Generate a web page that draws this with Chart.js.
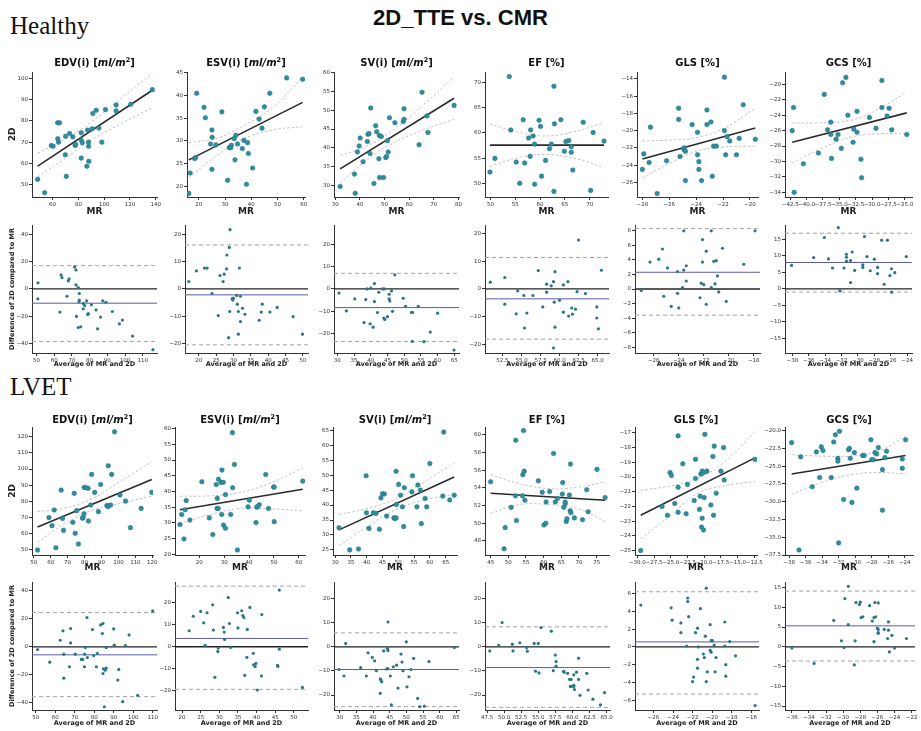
<!DOCTYPE html>
<html>
<head>
<meta charset="utf-8">
<title>2D_TTE vs. CMR</title>
<script src="https://cdn.jsdelivr.net/npm/chart.js@4.4.1/dist/chart.umd.min.js"></script>
<style>
  html, body { margin: 0; padding: 0; background: #fff; }
  body { width: 921px; height: 731px; position: relative; overflow: hidden; font-family: "DejaVu Sans", sans-serif; color: #111; }
  canvas { position: absolute; }
  .main { position: absolute; left: 0; width: 921px; top: 5px; text-align: center; font: bold 22px "Liberation Sans", Arial, sans-serif; line-height: 26px; }
  .group { position: absolute; left: 10px; font: 25px "Liberation Serif", "Times New Roman", serif; line-height: 25px; }
  .ptitle { position: absolute; font-weight: bold; font-size: 10px; line-height: 14px; white-space: nowrap; transform: translateX(-50%); }
  .ptitle sup { font-size: 6.5px; line-height: 0; vertical-align: 4px; }
</style>
</head>
<body>
<div class="main">2D_TTE vs. CMR</div>
<div class="group" style="top:13px">Healthy</div>
<div class="group" style="top:374px">LVET</div>
<script>
// ---- titles ----
const metricTitles = [
  "EDV(i) [<i>ml/m</i><sup>2</sup>]",
  "ESV(i) [<i>ml/m</i><sup>2</sup>]",
  "SV(i) [<i>ml/m</i><sup>2</sup>]",
  "EF [%]",
  "GLS [%]",
  "GCS [%]"
];

// ---- Healthy: MR vs 2D ----
const hEdvMR = [48.4, 53.8, 59, 60.3, 63.9, 65.4, 64, 64.6, 69.8, 70.6, 70.1, 73.2, 75.7, 77.5, 77.8, 82.2, 82.2, 82.2, 83, 86.6, 87.1, 87.9, 87.9, 88.1, 91.2, 93.8, 95.9, 98.2, 101, 109.3, 109.3, 120.6, 137.4, 90.7];
const hEdv2D = [52.5, 46.2, 68.4, 68.1, 79.1, 79.1, 71.6, 70, 64.1, 53.9, 72.8, 74.1, 72.5, 68.4, 69, 62.5, 74.4, 71, 69.7, 58.7, 75.7, 68.1, 70, 61, 83.5, 85, 76.6, 70, 85.3, 87.5, 84.7, 87.8, 94.7, 76.3];
const hEdvFit = [48.4, 58.7, 137.4, 94.4];
const hEdvBandX = [48.4, 70, 90, 114, 137.4];
const hEdvHi = [64.7, 71.5, 79.5, 91, 102.3];
const hEdvLo = [53.6, 62.5, 71, 79, 86.3];

const hEsvMR = [16.2, 16.7, 18.4, 18.8, 19.2, 22, 22.5, 25, 25.1, 25, 24.5, 26.5, 28.8, 31, 31.6, 32.2, 32.4, 33.5, 33.8, 34.1, 34.8, 36.6, 37.2, 38.2, 38.6, 38.9, 40.5, 41.8, 43, 44.1, 45, 47.1, 53.5, 59.6];
const hEsv2D = [18.4, 22.9, 26.1, 26.3, 40.5, 37.4, 35.1, 32.4, 30.8, 23.7, 29.3, 29.1, 36.4, 21.3, 28.5, 28.5, 29, 30.5, 25.8, 31.2, 29.3, 28.3, 30.1, 20.4, 29.6, 27.2, 24, 36.5, 34.8, 32.8, 37.5, 40.5, 43.9, 43.6];
const hEsvFit = [16.2, 25.8, 59.6, 38.5];
const hEsvBandX = [16.2, 27, 36, 48, 59.6];
const hEsvHi = [29.6, 30.6, 33, 37.3, 44.1];
const hEsvLo = [21.9, 26.8, 30.2, 32.4, 33.1];

const hSvMR = [32, 37.8, 38.1, 39, 39.7, 40.1, 41.3, 43, 43.3, 43.7, 44.1, 44.4, 45.7, 46.4, 46.8, 47.7, 47.9, 48.7, 48, 49.6, 50.5, 50.8, 51.2, 51.5, 52, 54.2, 57.6, 57.9, 57.9, 64, 65.2, 67.2, 67.6, 78.2];
const hSv2D = [29.7, 33, 27.9, 38.9, 40.5, 42.6, 36.3, 41.7, 43.6, 43.8, 38.5, 50.6, 30.5, 45.9, 44.3, 37.1, 43.3, 43, 32.1, 32.1, 37.4, 37.7, 41.9, 38.9, 48, 46.7, 47, 47.6, 50.4, 40.8, 54.8, 48.5, 44.1, 51.3];
const hSvFit = [32, 34.4, 78.2, 53.2];
const hSvBandX = [32, 42, 52, 65, 78.2];
const hSvHi = [38, 40.2, 44, 51, 58.9];
const hSvLo = [30.5, 36.4, 40.8, 44.6, 47.6];

const hEfMR = [49.9, 50.9, 53.8, 54.1, 55.2, 55.9, 56.6, 56.9, 57.7, 58, 58.1, 58.6, 58.9, 58.9, 59.8, 60.1, 60.3, 61.1, 61.9, 62.3, 62.8, 62.8, 62.9, 64.2, 64.9, 65.2, 65.8, 66.3, 66.3, 66.6, 68.7, 70.2, 70.7, 72.9];
const hEf2D = [52.3, 55, 71.1, 60.6, 54.3, 50.1, 62.6, 54.1, 59, 55.4, 60.6, 59.4, 57.8, 49.9, 62.5, 61.3, 51.5, 54.6, 56.9, 57.8, 69.2, 48.5, 61.8, 62.6, 56.4, 58.3, 58.5, 57.3, 56.2, 52.7, 62.1, 48.7, 60.1, 58.4];
const hEfFit = [49.9, 57.6, 72.9, 57.6];
const hEfBandX = [49.9, 55, 61, 67, 72.9];
const hEfHi = [61.8, 60.3, 59.4, 60.3, 62];
const hEfLo = [53.4, 55, 55.8, 55, 53.2];

const hGlsMR = [-28, -27.9, -27.5, -27.4, -26.9, -26.2, -25.3, -25.3, -25.2, -24.9, -24.9, -24.8, -24.8, -24.3, -23.9, -23.9, -23.8, -23.8, -23.6, -23.2, -23.2, -22.9, -22.8, -22.7, -22.5, -21.9, -21.9, -21.8, -21.7, -21.5, -21, -20.8, -20.5, -19.6];
const hGls2D = [-24.5, -22.7, -23.7, -19.6, -27.3, -23.5, -18.7, -17.4, -23, -22, -22.2, -22.4, -25.8, -19.3, -20.2, -22.8, -23.6, -24.5, -25.8, -17.6, -19.3, -19, -25.3, -21.8, -21.8, -20, -13.8, -22.8, -20.7, -21.2, -22.8, -20.9, -17, -21];
const hGlsFit = [-28, -23.3, -19.6, -19.7];
const hGlsBandX = [-28, -26, -24, -22, -19.6];
const hGlsHi = [-21.2, -21.1, -20.8, -19.8, -17.4];
const hGlsLo = [-25.5, -23.8, -22.4, -21.9, -21.8];

const hGcsMR = [-42.2, -42, -41.9, -40.5, -38.2, -37.3, -36.8, -36.3, -36.3, -36.2, -35.5, -35.2, -34.7, -34.5, -34, -33.7, -32.9, -32.8, -32.3, -32.3, -31.7, -31.6, -30.4, -29.4, -28.5, -28.5, -27.7, -27.4, -27, -24.7];
const hGcs2D = [-26, -23, -34, -30.3, -28.9, -21.3, -25.9, -24.9, -26.5, -29.6, -27.1, -26.5, -28.3, -19.8, -19.1, -24, -27.5, -25.8, -23.5, -26.2, -29.7, -32.1, -24.3, -25.7, -19.5, -23, -24.1, -23.1, -25.9, -26.5];
const hGcsFit = [-42.2, -27.5, -24.7, -23.7];
const hGcsBandX = [-42.2, -38, -33, -29, -24.7];
const hGcsHi = [-25, -25, -24.6, -23.2, -21];
const hGcsLo = [-30.2, -28.4, -26.8, -26.4, -26.4];

// ---- Healthy: Bland-Altman ----
const hEdvAvg = [50.9, 50.8, 63.2, 63.9, 64.4, 67.2, 68, 68.4, 71.5, 72.3, 72.3, 72.6, 73.6, 73.6, 74, 74.2, 74.2, 75, 76.4, 76.4, 77.2, 78.3, 78.9, 79.3, 81, 83.6, 84.5, 86.2, 87.4, 89.2, 92.8, 96.8, 98.5, 104.2, 115.7];
const hEdvDiff = [4.4, -7.3, -17, 10.2, 8.3, -5.4, 5.9, 7.3, 16.1, 13.9, 2.9, -20.2, 1, -28.3, -9.3, -8.2, -3.4, -27.8, -10.7, -14.6, -12.2, -8.8, -18.8, -18.2, -11.7, -15.4, -29.3, -20.7, -8.8, -9.8, -16.6, -25.6, -22.9, -34.6, -44.6];
const hEdvLoA = [-10.5, 17, -38.5];

const hEsvAvg = [17.1, 19.3, 21.6, 22.4, 23.8, 25.6, 26.1, 27, 27.3, 28, 28.1, 28.6, 28.8, 28.9, 29, 29.6, 29.8, 30, 30.9, 31.1, 31.4, 31.7, 31.4, 32, 32, 32.6, 33.3, 37.4, 38, 38.3, 40.5, 42.6, 47.2, 49.9];
const hEsvDiff = [2.7, 6.6, 7.6, 7.6, -1.7, -9.8, 4.9, 2.7, 5.4, 7.3, 12.4, -17.9, 15.2, -8.3, 21.7, -3.6, -4.1, -3.4, -2.4, -5.6, -8.3, 7.6, -16.6, -2.7, -12, -7.1, -9.3, -11.5, -8.5, -5.6, -8.5, -6.8, -10.2, -16.6];
const hEsvLoA = [-2.2, 16.1, -20.5];

const hSvAvg = [30.5, 32.7, 35.2, 38, 38.5, 38.9, 40, 39.8, 40.7, 41.1, 41.1, 42, 42.4, 43.5, 44, 43.9, 44.2, 45, 45.5, 45.5, 45.7, 46.2, 46.5, 47.2, 49.7, 50.4, 52.2, 52.5, 52.4, 54.2, 55.9, 57.8, 60, 64.9];
const hSvDiff = [-1.9, -9.9, -4.5, -15.1, -4.8, 0, 0.3, -15.7, -17.2, 2.4, -5.7, -10.6, -1.5, 0, 0, -13.1, -13.7, -12.5, -2.4, -4.5, -5.4, -0.9, -10.1, 6.3, -4.2, -7.9, -10.5, -10.6, -23.6, -7.9, -23.7, -19.4, -10.9, -27.5];
const hSvLoA = [-8.4, 7, -23.6];

const hEfAvg = [50.9, 52.8, 52.8, 54.3, 54.5, 55.3, 55.4, 55.7, 56.5, 57.2, 57.8, 58.3, 58.3, 58.9, 59.2, 59.3, 59.4, 59.4, 59.2, 60, 60.5, 60.5, 61.1, 61.2, 61.6, 61.7, 62.1, 62.3, 62.5, 63.4, 64.9, 64.9, 65.1, 65.5];
const hEfDiff = [2.4, 4.1, -5.5, -9, -0.7, -2.4, -14.1, -8.7, -2.4, 6.6, -6.5, 1.7, -1.2, 1.1, 2.6, -4.8, -13.8, 6.2, -21.3, -4.1, 1.4, -8.4, 2.6, -9.8, -6.9, -9.1, -7.3, -1, 17.6, -1.7, -6.5, -10.5, -14.4, 6.7];
const hEfLoA = [-3.6, 11.3, -18.1];

const hGlsAvg = [-27, -26.3, -25.6, -25.3, -25.2, -24.9, -24.6, -24.1, -24.1, -24, -23.7, -23.6, -23.6, -23.4, -23.4, -22.3, -22.2, -22.1, -22.1, -22, -21.8, -21.8, -21.4, -21.4, -21.2, -21.1, -21, -20.9, -20.8, -20.5, -20.2, -18.8, -17.9];
const hGlsDiff = [-0.2, 3.7, 4.1, 5.5, -1, 2.9, -2.4, 2.4, -0.6, -2.6, 0.2, 8, 2.6, 3.2, 1.1, -1.2, 0.8, 6.8, 3.7, 0.6, 5.2, -2.1, 8, 0.2, 3.8, 0.7, 3.9, 1.8, -0.4, 5.6, -1.7, 3.4, 8];
const hGlsLoA = [2.3, 8.3, -3.6];

const hGcsAvg = [-38.1, -35.4, -34.1, -33.6, -33.1, -32.4, -32.2, -31.7, -31.4, -31.4, -31.4, -30.9, -30.9, -30.7, -30.4, -29.4, -29.4, -29.2, -28.9, -28.5, -28, -27.6, -27.6, -27.1, -26.8, -26.4, -26.1, -25.9, -25.9, -25.5, -24.1];
const hGcsDiff = [7.1, 9.5, 15.6, 9.1, 6.3, 18.6, -0.6, 6.3, 10.5, 9.6, 8.4, 8.6, 1.9, 11.2, 5.6, 7.3, 6.5, 15.9, 9.8, 5.5, 9, 6.5, 4.6, 14.8, 1.4, 14.8, 4, 6.1, -1, 4.9, 9.8];
const hGcsLoA = [8, 16.9, -1];

// ---- LVET: MR vs 2D ----
const lEdvMR = [52.3, 59, 60.8, 62.1, 63.1, 66.2, 67, 67.6, 73.1, 73.9, 74.5, 75.4, 76.4, 78.8, 79.2, 79.7, 79.8, 80.6, 82.1, 82.3, 83.7, 84.2, 86, 88.2, 89.5, 93.2, 93.8, 94, 94, 95.4, 96, 97.7, 100.9, 104.2, 107.1, 113.4, 119.7];
const lEdv2D = [50, 70, 65, 74.7, 51.4, 87, 69.5, 62.1, 67.1, 85, 60.3, 74.3, 53.7, 69.6, 70.2, 72.4, 88.6, 88.6, 88.1, 67.9, 77.8, 96.7, 85.6, 73.7, 90.5, 77.5, 76.8, 77.2, 102, 77.8, 96.7, 123, 84, 80.2, 63.8, 75.7, 85.6];
const lEdvFit = [52.3, 64.2, 119.7, 93.6];
const lEdvBandX = [52.3, 68, 85, 102, 119.7];
const lEdvHi = [73.7, 75.8, 82, 93, 104.5];
const lEdvLo = [54.7, 66, 74.8, 79, 83.3];

const lEsvMR = [12.2, 12.9, 13.8, 14.3, 14.7, 16.2, 21, 24, 25.4, 26.8, 27.7, 27.2, 27.1, 27.6, 28.7, 29.6, 29.1, 29, 29.7, 30.5, 30.5, 32.6, 33.3, 33.4, 34.1, 35.3, 39.6, 40.1, 42.8, 43.1, 43.4, 44.1, 46.7, 47.8, 49.9, 50.1, 50.1, 61.6];
const lEsv2D = [29.5, 32.7, 24.9, 34.2, 37.1, 30.9, 43.1, 31.6, 26.3, 42.2, 43.9, 37.8, 34.6, 34.6, 42.9, 42.9, 46.8, 32.7, 29.3, 28.3, 39, 32.7, 58.7, 41.2, 48.6, 21.4, 35.1, 37.2, 30.1, 35, 35.2, 35.8, 45.4, 34.6, 41.4, 41.4, 30.4, 43.3];
const lEsvFit = [12.2, 34.2, 61.6, 40.7];
const lEsvBandX = [12.2, 24, 36, 48, 61.6];
const lEsvHi = [38.5, 38.6, 39.6, 42.5, 47.5];
const lEsvLo = [29.8, 32.6, 34.6, 34.5, 33.8];

const lSvMR = [31.2, 34.6, 37.4, 39.8, 39.9, 40.7, 42.1, 42.9, 44, 44.5, 45, 45.6, 46.3, 48.6, 48.9, 49.3, 49.3, 49.4, 50.1, 50.7, 51.3, 51.7, 51.9, 54.3, 54.5, 55.9, 56.2, 57, 57.3, 58.5, 59, 60, 64.1, 64.4, 66.3, 67.7];
const lSv2D = [32.4, 25, 25.3, 49.8, 37.4, 32.2, 37.4, 37.2, 31.9, 42.4, 43.8, 43.7, 36.3, 35.7, 35.5, 35.7, 51.3, 40.2, 46.9, 43.3, 39.4, 32.8, 45.8, 44.4, 49.8, 39.4, 46.7, 45, 33.8, 42.2, 39.4, 53.9, 43, 64.4, 41.7, 43.3];
const lSvFit = [31.2, 31.7, 67.7, 49.4];
const lSvBandX = [31.2, 40, 49, 58, 67.7];
const lSvHi = [36.9, 38.8, 42, 47.6, 54.1];
const lSvLo = [26.4, 32.6, 38.4, 41.6, 43.6];

const lEfMR = [45, 49.1, 48.8, 50.8, 52, 52.3, 52.1, 54, 54.1, 54.5, 54.3, 54.7, 58.5, 59.6, 60.1, 60.6, 60.7, 61.7, 62.8, 63.3, 63.9, 65.4, 65.3, 65.7, 66.1, 66.1, 66.4, 66.6, 67.3, 67.5, 67.7, 67.6, 68.7, 71, 72.2, 72.6, 75.1, 77.4];
const lEf2D = [54.7, 49.5, 47.1, 51.8, 53.1, 50.3, 59.4, 53.1, 55.5, 55.9, 60.5, 52.6, 54.8, 53.5, 49.8, 50, 52.4, 53.6, 57.9, 52.4, 52.8, 54.6, 53.3, 51.8, 52.2, 52.4, 50.2, 50.5, 53.2, 51.4, 51.2, 56.7, 50.6, 50.4, 53.8, 51.3, 56.1, 52.9];
const lEfFit = [45, 53.4, 77.4, 52.6];
const lEfBandX = [45, 53, 62, 70, 77.4];
const lEfHi = [55.5, 54.5, 53.9, 54.1, 54.7];
const lEfLo = [51.1, 52.1, 52.1, 51.6, 50.2];

const lGlsMR = [-29.5, -26.3, -25.5, -25.1, -24.9, -24.4, -23.9, -23.9, -23.9, -23.2, -22.7, -22.5, -21.5, -21.3, -21.3, -20.7, -20.6, -20.5, -20.3, -20.4, -20.1, -20.3, -20.1, -20, -19.9, -19.6, -19, -18.7, -18.6, -18.5, -18.2, -17.5, -17, -17.1, -12.4];
const lGls2D = [-25, -22, -22.6, -19.7, -19.9, -21.8, -22.4, -17.2, -20.7, -19.1, -22.5, -20.5, -21.6, -18.8, -20.1, -22.2, -21.3, -19.8, -22.8, -23.4, -23.6, -19.6, -19.7, -21.4, -17.1, -19.6, -21.9, -18.6, -22.6, -17.9, -21.1, -19.6, -20.2, -18, -18.8];
const lGlsFit = [-29.5, -22.6, -12.4, -18.7];
const lGlsBandX = [-29.5, -25, -21, -17, -12.4];
const lGlsHi = [-20.9, -20.6, -20.1, -19, -16.9];
const lGlsLo = [-24.2, -22.6, -21.1, -20.6, -20.3];

const lGcsMR = [-37.7, -36.6, -36.8, -35.2, -34.7, -34.3, -34.1, -33.9, -32.9, -32.6, -32.4, -32.1, -32.1, -31.9, -32, -31.4, -30.8, -30.7, -30.6, -30.4, -30.1, -29.8, -29.1, -28.9, -28.1, -28, -27.8, -27.6, -27.4, -27.2, -26.7, -26.7, -26.4, -26.2, -24.3, -24.3, -23.9];
const lGcs2D = [-21.7, -23.7, -36.8, -27.9, -23, -26.6, -22.3, -22.8, -26.6, -21.6, -20.6, -23.9, -24.3, -20.1, -35.8, -29.7, -22.7, -22.5, -23.9, -30.1, -23.1, -28.1, -23.5, -23.5, -21.3, -24.1, -24.1, -23.1, -23.3, -22.4, -25.5, -31.2, -23.8, -22.9, -24, -25.3, -21.3];
const lGcsFit = [-37.7, -26.1, -23.9, -23.5];
const lGcsBandX = [-37.7, -34, -30.5, -27, -23.9];
const lGcsHi = [-23.4, -23.6, -23.6, -22.8, -20.8];
const lGcsLo = [-29, -27.3, -26.2, -25.9, -26.1];

// ---- LVET: Bland-Altman ----
const lEdvAvg = [51, 57.2, 62.6, 64, 64.4, 64.4, 67.3, 67.9, 67.9, 70.3, 73.4, 74.1, 75.1, 75.5, 75, 76.3, 76.5, 79.1, 79.7, 81.1, 81.6, 83.3, 84.2, 84.5, 84.7, 85.6, 86.1, 84.5, 86.2, 90, 90.3, 92.1, 92.6, 94.6, 96, 97.9, 102.3, 110, 85.2];
const lEdvDiff = [-1.9, -10.9, 4.7, 11.4, -22.3, -5.2, -14.2, 13, 2.8, -5.2, -9, -9, -5.2, -0.5, -14.2, 20.9, -7.6, 12.3, -6.2, -14.2, -4.7, 15.6, 9.5, 16.6, -15.6, -16.6, -15.2, -19, -0.5, 12.8, 1.2, -23.7, -16.1, -39.1, 0.9, 8.5, -34.6, 25.6, -42.7];
const lEdvLoA = [-5.7, 24.4, -35.5];

const lEsvAvg = [21.9, 23, 25, 25.8, 26.2, 26.7, 28.2, 28.4, 28.8, 29.6, 29.7, 31.1, 31.3, 31.4, 32.4, 32.7, 33, 34.9, 35, 36, 36.3, 36.6, 36.8, 37.4, 37.5, 38.2, 39.1, 39.2, 39.6, 39.8, 40.2, 41.4, 41.3, 45.6, 45.7, 46.1, 46.1, 52.3];
const lEsvDiff = [7.3, 13.9, 16.1, 10.9, 0.6, 15.5, 19.1, 7.6, -13.9, -2.1, -0.6, 8.8, 6.7, 3.3, 22.4, 10.6, -0.3, 15.5, 8.6, 16.4, 14.2, 13.3, -13, -4.8, 7.9, 17.9, -3, -8.2, -9, -7.6, -19.7, 14.7, -13.3, -8.5, -8.9, 25.8, -1.1, -18.5];
const lEsvLoA = [3.8, 27.6, -19.4];

const lSvAvg = [29.8, 31.3, 31.8, 36.3, 38, 38.5, 39.8, 40.5, 41, 42.2, 42.4, 42.6, 42.2, 43.2, 44.1, 44.4, 44.3, 44.5, 44.5, 45.2, 45.5, 46.1, 47.1, 47.5, 48.4, 48.7, 49, 50, 50.2, 50.8, 51.4, 52.2, 53.4, 54, 55.4, 56.8, 64.4];
const lSvDiff = [-9.4, -12.1, 1.4, -8.6, -12.1, -2.5, -4.4, -5.8, -9.9, -13.3, -13.8, -14.5, -19.3, -1.7, -9.2, -9, -0.6, -1.5, 10.3, -12.1, -24.1, -8.3, -7.6, -17.1, -3, -6.3, -9.9, 2.1, -16.6, -12.4, -9.4, -4.8, -21.4, -24.8, -24.6, -6.1, -0.3];
const lSvLoA = [-9.4, 5.8, -24.8];

const lEfAvg = [47.9, 49.2, 49.7, 51.2, 51.3, 52.3, 53.3, 53.4, 54.4, 54.6, 55, 55.1, 55.4, 56.9, 57.5, 57.6, 57.6, 57.2, 58.7, 58.8, 59.3, 59.6, 59.7, 59.8, 59.8, 60.2, 60.2, 60.2, 60.3, 60.6, 60.9, 60.9, 61.1, 62.1, 62.3, 63, 64.1, 64.7];
const lEfDiff = [-1.7, 0.6, 10.1, 1.1, -1.7, 1.7, -0.3, -1.8, 1.4, -10.1, 1.4, -10.8, 8, 6.5, -3.4, -6.1, -8, -9.9, -10.2, -10.5, -11, -13.5, -16.4, -16.4, -13.5, -16, -16.5, -11.6, -17.7, -10.5, -4.7, -13.5, -20.1, -11, -17.9, -21.7, -24.1, -19];
const lEfLoA = [-8.6, 8.3, -25.1];

const lGlsAvg = [-27.3, -24.2, -24.1, -23.2, -23.2, -22.6, -22.5, -22.5, -22.4, -22, -21.9, -21.7, -21.5, -21.5, -21.5, -21.4, -21.2, -20.9, -20.8, -20.7, -20.6, -20.6, -20.5, -20.2, -20.2, -20.1, -20, -20, -20.1, -19.8, -19.6, -19.7, -18.7, -18.7, -18.6, -18.6, -18.2, -17.6, -15.6];
const lGlsDiff = [4.7, 4.4, 3, 2.7, 1.6, 0.1, 5.5, 5.1, 3.4, -3.9, -3.4, 1.6, -2.4, -1.4, 2.1, 0, 4.3, -0.8, -1.2, 1.2, -3.9, 6.6, -2.8, -0.4, 2.5, 0.7, 0.7, 0.7, -0.6, 0.2, -1.2, -2.8, 0.1, 2.8, -2, -3.3, 0.6, -1, -6.6];
const lGlsLoA = [0.56, 6.2, -5.3];

const lGcsAvg = [-36, -33.4, -31.1, -30.2, -29.9, -29.8, -29.4, -29.4, -28.7, -28.6, -28.5, -28.1, -28, -27.9, -27.7, -26.9, -26.6, -26.4, -26.2, -26.3, -26.4, -26, -25.9, -25.9, -25.9, -25.9, -25.2, -24.7, -24.7, -24.8, -24.6, -24.3, -24, -22.6];
const lGcsDiff = [-0.3, -4.2, 6.7, 1.5, -0.2, 12.2, 15.3, 5.6, -4.6, 1.5, 11.2, 10.7, 11.3, 7.4, 7.6, 10.4, 6.5, 7.4, 7.6, 11.2, 1.3, 4.7, 4.4, 3.6, 3.4, 11.1, 4.4, 4.2, 6.3, 2.1, -1.3, 2.9, -0.3, 2.1];
const lGcsLoA = [5.3, 14.1, -3.6];

// ---- tick labels ----
const hEdvXT = [60, 80, 100, 120, 140], hEdvYT = [50, 60, 70, 80, 90, 100];
const hEsvXT = [20, 30, 40, 50, 60], hEsvYT = [20, 25, 30, 35, 40, 45];
const hSvXT = [30, 40, 50, 60, 70, 80], hSvYT = [30, 35, 40, 45, 50, 55, 60];
const hEfXT = [50, 55, 60, 65, 70], hEfYT = [50, 55, 60, 65, 70];
const hGlsXT = [-28, -26, -24, -22, -20], hGlsYT = [-26, -24, -22, -20, -18, -16, -14];
const hGcsXT = [-42.5, -40, -37.5, -35, -32.5, -30, -27.5, -25], hGcsYT = [-34, -32, -30, -28, -26, -24, -22, -20];

const hEdvBaXT = [50, 60, 70, 80, 90, 100, 110], hEdvBaYT = [-40, -20, 0, 20, 40];
const hEsvBaXT = [20, 25, 30, 35, 40, 45, 50], hEsvBaYT = [-20, -10, 0, 10, 20];
const hSvBaXT = [30, 35, 40, 45, 50, 55, 60, 65], hSvBaYT = [-20, -10, 0, 10, 20];
const hEfBaXT = [52.5, 55, 57.5, 60, 62.5, 65], hEfBaYT = [-20, -10, 0, 10, 20];
const hGlsBaXT = [-26, -24, -22, -20, -18], hGlsBaYT = [-8, -6, -4, -2, 0, 2, 4, 6, 8];
const hGcsBaXT = [-38, -36, -34, -32, -30, -28, -26, -24], hGcsBaYT = [-15, -10, -5, 0, 5, 10, 15];

const lEdvXT = [50, 60, 70, 80, 90, 100, 110, 120], lEdvYT = [50, 60, 70, 80, 90, 100, 110, 120];
const lEsvXT = [20, 30, 40, 50, 60], lEsvYT = [20, 25, 30, 35, 40, 45, 50, 55, 60];
const lSvXT = [30, 35, 40, 45, 50, 55, 60, 65], lSvYT = [25, 30, 35, 40, 45, 50, 55, 60, 65];
const lEfXT = [45, 50, 55, 60, 65, 70, 75], lEfYT = [48, 50, 52, 54, 56, 58, 60];
const lGlsXT = [-30, -27.5, -25, -22.5, -20, -17.5, -15, -12.5], lGlsYT = [-25, -24, -23, -22, -21, -20, -19, -18, -17];
const lGcsXT = [-38, -36, -34, -32, -30, -28, -26, -24], lGcsYT = [-37.5, -35, -32.5, -30, -27.5, -25, -22.5, -20];

const lEdvBaXT = [50, 60, 70, 80, 90, 100, 110], lEdvBaYT = [-40, -20, 0, 20, 40];
const lEsvBaXT = [20, 25, 30, 35, 40, 45, 50], lEsvBaYT = [-20, -10, 0, 10, 20];
const lSvBaXT = [30, 35, 40, 45, 50, 55, 60, 65], lSvBaYT = [-20, -10, 0, 10, 20];
const lEfBaXT = [47.5, 50, 52.5, 55, 57.5, 60, 62.5, 65], lEfBaYT = [-20, -10, 0, 10, 20];
const lGlsBaXT = [-26, -24, -22, -20, -18, -16], lGlsBaYT = [-6, -4, -2, 0, 2, 4, 6];
const lGcsBaXT = [-36, -34, -32, -30, -28, -26, -24, -22], lGcsBaYT = [-15, -10, -5, 0, 5, 10, 15];

// ---- layout of the 4 rows of panels (plot area in px) ----
const rowGeo = [
  { t: 72, b: 197, lab: 212, kind: "fit", titleY: 63,
    cols: [[32, 157], [187, 305], [334, 459], [485, 608], [637, 758], [785, 912]] },
  { t: 225, b: 353, lab: 364, kind: "ba",
    cols: [[32, 157], [185, 308], [334, 459], [485, 609], [635, 760], [785, 912]] },
  { t: 427, b: 555, lab: 568, kind: "fit", titleY: 420,
    cols: [[32, 153], [175, 305], [333, 457], [485, 609], [635, 757], [785, 913]] },
  { t: 582, b: 710, lab: 723, kind: "ba",
    cols: [[32, 157], [175, 308], [334, 459], [485, 610], [635, 759], [785, 915]] }
];

Chart.defaults.font.family = '"DejaVu Sans", sans-serif';
Chart.defaults.color = "#333";

const TEAL = "#2f8d9e";
const fmt = (v, d) => (d ? v.toFixed(d) : String(v)).replace("-", "\u2212");
const pts = (xs, ys) => xs.map((x, i) => ({ x, y: ys[i] }));

function drawPanel(row, col, p) {
  const g = rowGeo[row];
  const [l, r] = g.cols[col];
  const ba = g.kind === "ba";
  const labSize = ba ? 6.5 : 9;
  const yw = col === 0 ? 32 : 30;
  const padTop = 6, padRight = 10;
  const xh = Math.round(g.lab - g.b + labSize * 0.6);

  const cv = document.createElement("canvas");
  cv.width = r - l + yw + padRight;
  cv.height = g.b - g.t + padTop + xh;
  cv.style.left = (l - yw) + "px";
  cv.style.top = (g.t - padTop) + "px";
  document.body.appendChild(cv);

  const datasets = [];
  if (ba) {
    datasets.push({ data: pts(p.x, p.y), pointRadius: 1.6, backgroundColor: "#2c7585", borderWidth: 0 });
    const hline = (y, color, w, dash) => ({
      data: [{ x: p.xr[0], y }, { x: p.xr[1], y }], showLine: true, pointRadius: 0,
      borderColor: color, borderWidth: w, borderDash: dash
    });
    datasets.push(hline(0, "#222", 1.3, []));
    datasets.push(hline(p.loa[0], "#5b5ba8", 1, []));
    datasets.push(hline(p.loa[1], "#a3a3a3", 1, [4, 3]));
    datasets.push(hline(p.loa[2], "#a3a3a3", 1, [4, 3]));
  } else {
    datasets.push({ data: pts(p.x, p.y), pointRadius: 2.3, backgroundColor: TEAL, borderColor: "#1f7080", borderWidth: 0.5 });
    datasets.push({
      data: [{ x: p.fit[0], y: p.fit[1] }, { x: p.fit[2], y: p.fit[3] }], showLine: true,
      pointRadius: 0, borderColor: "#2a2a2a", borderWidth: 1.6
    });
    const band = ys => ({
      data: pts(p.bx, ys), showLine: true, pointRadius: 0, tension: 0.4,
      borderColor: "#c2c2c2", borderWidth: 1, borderDash: [2.5, 2]
    });
    datasets.push(band(p.hi));
    datasets.push(band(p.lo));
  }

  const axis = (range, ticks, dec) => ({
    type: "linear", min: range[0], max: range[1],
    afterBuildTicks: s => { s.ticks = ticks.map(v => ({ value: v })); },
    ticks: { font: { size: 5.5 }, color: "#333", padding: 1, autoSkip: false, maxRotation: 0, callback: v => fmt(v, dec) },
    grid: { drawOnChartArea: false, drawTicks: true, tickLength: 3, color: "#333" },
    border: { color: "#333", width: 1 }
  });

  const xAxis = axis(p.xr, p.xt, p.xd || 0);
  xAxis.afterFit = s => { s.height = xh; };
  xAxis.title = { display: true, text: ba ? "Average of MR and 2D" : "MR", color: "#222",
                  font: { size: labSize, weight: "bold" }, padding: 0 };

  const yAxis = axis(p.yr, p.yt, p.yd || 0);
  yAxis.afterFit = s => { s.width = yw; };
  yAxis.title = { display: col === 0, text: ba ? "Difference of 2D compared to MR" : "2D", color: "#222",
                  font: { size: ba ? 6.5 : 9, weight: "bold" }, padding: { top: ba ? 8 : 7, bottom: 0 } };

  new Chart(cv, {
    type: "scatter",
    data: { datasets },
    options: {
      responsive: false, animation: false, devicePixelRatio: 1, events: [],
      layout: { padding: { left: 0, top: padTop, right: padRight, bottom: 0 } },
      plugins: { legend: { display: false }, tooltip: { enabled: false } },
      scales: { x: xAxis, y: yAxis }
    }
  });

  if (!ba) {
    const t = document.createElement("div");
    t.className = "ptitle";
    t.innerHTML = p.title;
    t.style.left = ((l + r) / 2) + "px";
    t.style.top = (g.titleY - 7) + "px";
    document.body.appendChild(t);
  }
}

// Healthy
drawPanel(0, 0, { x: hEdvMR, y: hEdv2D, fit: hEdvFit, bx: hEdvBandX, hi: hEdvHi, lo: hEdvLo, xr: [44, 141], yr: [44.2, 103], xt: hEdvXT, yt: hEdvYT, title: metricTitles[0] });
drawPanel(0, 1, { x: hEsvMR, y: hEsv2D, fit: hEsvFit, bx: hEsvBandX, hi: hEsvHi, lo: hEsvLo, xr: [15.5, 60.5], yr: [17.6, 45.2], xt: hEsvXT, yt: hEsvYT, title: metricTitles[1] });
drawPanel(0, 2, { x: hSvMR, y: hSv2D, fit: hSvFit, bx: hSvBandX, hi: hSvHi, lo: hSvLo, xr: [29.5, 80.2], yr: [26.9, 60.2], xt: hSvXT, yt: hSvYT, title: metricTitles[2] });
drawPanel(0, 3, { x: hEfMR, y: hEf2D, fit: hEfFit, bx: hEfBandX, hi: hEfHi, lo: hEfLo, xr: [48.9, 73.7], yr: [47.4, 72], xt: hEfXT, yt: hEfYT, title: metricTitles[3] });
drawPanel(0, 4, { x: hGlsMR, y: hGls2D, fit: hGlsFit, bx: hGlsBandX, hi: hGlsHi, lo: hGlsLo, xr: [-28.4, -19.4], yr: [-27.7, -13.2], xt: hGlsXT, yt: hGlsYT, title: metricTitles[4] });
drawPanel(0, 5, { x: hGcsMR, y: hGcs2D, fit: hGcsFit, bx: hGcsBandX, hi: hGcsHi, lo: hGcsLo, xr: [-43.3, -23.9], yr: [-34.6, -18.4], xt: hGcsXT, yt: hGcsYT, xd: 1, title: metricTitles[5] });

drawPanel(1, 0, { x: hEdvAvg, y: hEdvDiff, loa: hEdvLoA, xr: [47.5, 118], yr: [-47, 46.8], xt: hEdvBaXT, yt: hEdvBaYT });
drawPanel(1, 1, { x: hEsvAvg, y: hEsvDiff, loa: hEsvLoA, xr: [16, 51.5], yr: [-23.5, 23.4], xt: hEsvBaXT, yt: hEsvBaYT });
drawPanel(1, 2, { x: hSvAvg, y: hSvDiff, loa: hSvLoA, xr: [29, 66.4], yr: [-28.8, 28.7], xt: hSvBaXT, yt: hSvBaYT });
drawPanel(1, 3, { x: hEfAvg, y: hEfDiff, loa: hEfLoA, xr: [50.2, 66.5], yr: [-23.1, 23], xt: hEfBaXT, yt: hEfBaYT, xd: 1 });
drawPanel(1, 4, { x: hGlsAvg, y: hGlsDiff, loa: hGlsLoA, xr: [-27.5, -17.5], yr: [-8.8, 8.8], xt: hGlsBaXT, yt: hGlsBaYT });
drawPanel(1, 5, { x: hGcsAvg, y: hGcsDiff, loa: hGcsLoA, xr: [-38.9, -23.4], yr: [-19.5, 19.4], xt: hGcsBaXT, yt: hGcsBaYT });

// LVET
drawPanel(2, 0, { x: lEdvMR, y: lEdv2D, fit: lEdvFit, bx: lEdvBandX, hi: lEdvHi, lo: lEdvLo, xr: [49, 120.4], yr: [46.9, 126], xt: lEdvXT, yt: lEdvYT, title: metricTitles[0] });
drawPanel(2, 1, { x: lEsvMR, y: lEsv2D, fit: lEsvFit, bx: lEsvBandX, hi: lEsvHi, lo: lEsvLo, xr: [10.2, 62.5], yr: [19.8, 60.5], xt: lEsvXT, yt: lEsvYT, title: metricTitles[1] });
drawPanel(2, 2, { x: lSvMR, y: lSv2D, fit: lSvFit, bx: lSvBandX, hi: lSvHi, lo: lSvLo, xr: [29.3, 68.6], yr: [23.3, 66.1], xt: lSvXT, yt: lSvYT, title: metricTitles[2] });
drawPanel(2, 3, { x: lEfMR, y: lEf2D, fit: lEfFit, bx: lEfBandX, hi: lEfHi, lo: lEfLo, xr: [43.4, 78.5], yr: [46.4, 60.9], xt: lEfXT, yt: lEfYT, title: metricTitles[3] });
drawPanel(2, 4, { x: lGlsMR, y: lGls2D, fit: lGlsFit, bx: lGlsBandX, hi: lGlsHi, lo: lGlsLo, xr: [-30.35, -12.1], yr: [-25.3, -16.6], xt: lGlsXT, yt: lGlsYT, xd: 1, title: metricTitles[4] });
drawPanel(2, 5, { x: lGcsMR, y: lGcs2D, fit: lGcsFit, bx: lGcsBandX, hi: lGcsHi, lo: lGcsLo, xr: [-38.5, -23], yr: [-37.5, -19.5], xt: lGcsXT, yt: lGcsYT, yd: 1, title: metricTitles[5] });

drawPanel(3, 0, { x: lEdvAvg, y: lEdvDiff, loa: lEdvLoA, xr: [48.1, 112.2], yr: [-45, 46.2], xt: lEdvBaXT, yt: lEdvBaYT });
drawPanel(3, 1, { x: lEsvAvg, y: lEsvDiff, loa: lEsvLoA, xr: [18.1, 53.8], yr: [-28.8, 29.5], xt: lEsvBaXT, yt: lEsvBaYT });
drawPanel(3, 2, { x: lSvAvg, y: lSvDiff, loa: lSvLoA, xr: [28.3, 65.8], yr: [-26.2, 26.9], xt: lSvBaXT, yt: lSvBaYT });
drawPanel(3, 3, { x: lEfAvg, y: lEfDiff, loa: lEfLoA, xr: [47.2, 65.5], yr: [-26.2, 26.9], xt: lEfBaXT, yt: lEfBaYT, xd: 1 });
drawPanel(3, 4, { x: lGlsAvg, y: lGlsDiff, loa: lGlsLoA, xr: [-27.9, -15.2], yr: [-7.1, 7.3], xt: lGlsBaXT, yt: lGlsBaYT });
drawPanel(3, 5, { x: lGcsAvg, y: lGcsDiff, loa: lGcsLoA, xr: [-36.8, -21.6], yr: [-16, 16.4], xt: lGcsBaXT, yt: lGcsBaYT });
</script>
</body>
</html>
